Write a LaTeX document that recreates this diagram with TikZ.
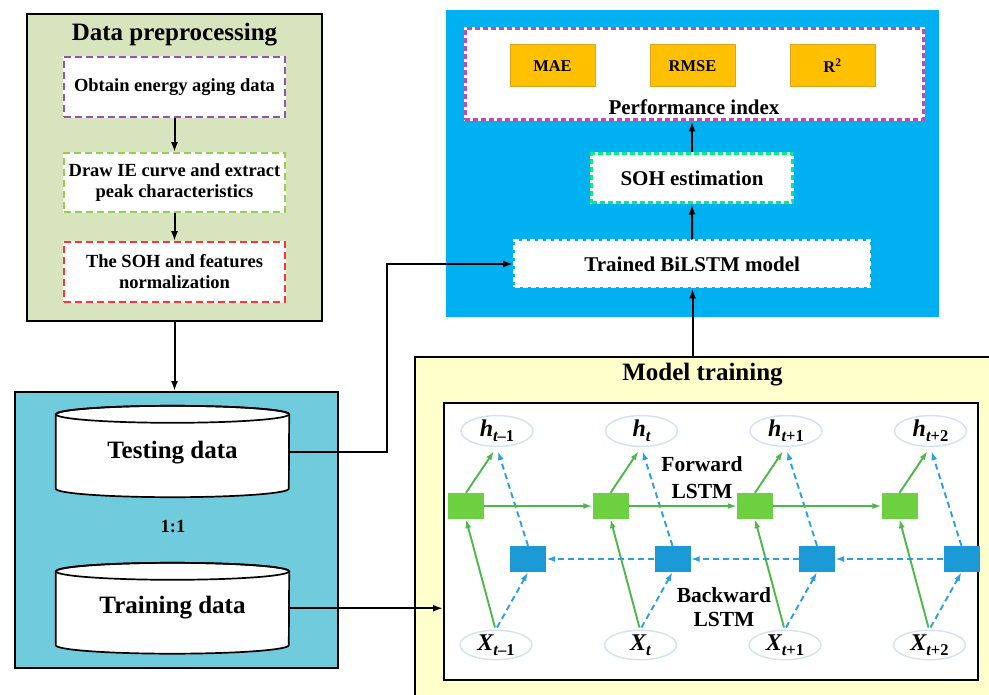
\documentclass[tikz,border=0pt]{standalone}
\usepackage{fontspec}
\setmainfont{Liberation Serif}
\usetikzlibrary{arrows.meta,shapes.geometric}

\definecolor{prepgreen}{HTML}{D7E4BE}
\definecolor{splitteal}{HTML}{70CCDC}
\definecolor{evalblue}{HTML}{00B0F0}
\definecolor{trainyellow}{HTML}{FFFFCC}
\definecolor{metricorange}{HTML}{FFC000}
\definecolor{metricedge}{HTML}{D9A520}
\definecolor{stepviolet}{HTML}{9452B8}
\definecolor{stepgreen}{HTML}{92D050}
\definecolor{stepred}{HTML}{FF3333}
\definecolor{perfmagenta}{HTML}{C24BB3}
\definecolor{sohgreen}{HTML}{00F080}
\definecolor{fwdgreen}{HTML}{6CD040}
\definecolor{bwdblue}{HTML}{1C9AD6}
\definecolor{arrgreen}{HTML}{4CB848}
\definecolor{arrblue}{HTML}{2A9FE0}
\definecolor{ellline}{HTML}{D0E2F4}

\newcommand\fsz[2]{\fontsize{#1}{#2}\selectfont}
% lowered subscript for the sequence labels
\newcommand\seqsub[1]{\raisebox{-5pt}{\fsz{16.5}{16.5}#1}}

\tikzset{
  panel/.style={draw=black, line width=2pt, inner sep=0pt},
  stepbox/.style={fill=white, line width=1.6pt, dash pattern=on 7pt off 4pt,
    preaction={draw=white, solid, line width=1.6pt},
    minimum width=221pt, align=center, inner sep=0pt, font=\bfseries\fsz{18.5}{21}},
  evalbare/.style={fill=white, line width=3pt, dash pattern=on 5pt off 3pt,
    inner sep=0pt, align=center, font=\bfseries\fsz{21}{24}},
  evalbox/.style={evalbare, preaction={draw=white, solid, line width=3pt}},
  flow/.style={-{Latex[length=10pt,width=7pt]}, line width=2pt, draw=black},
  metric/.style={fill=metricorange, draw=metricedge, line width=1pt,
    minimum width=85pt, minimum height=42pt, inner sep=0pt, font=\bfseries\fsz{16.5}{18}},
  cylnode/.style={minimum width=233pt, inner sep=0pt},
  cyltext/.style={font=\bfseries\fsz{25}{28}},
  fwdcell/.style={rectangle, fill=fwdgreen, minimum width=36pt, minimum height=26pt, inner sep=0pt},
  bwdcell/.style={rectangle, fill=bwdblue, minimum width=36pt, minimum height=26pt, inner sep=0pt},
  seqstate/.style={ellipse, fill=white, draw=ellline, line width=1.4pt,
    minimum width=72pt, minimum height=23pt, inner sep=0pt, font=\fsz{24}{24}},
  garrow/.style={-{Latex[length=9pt,width=6pt]}, draw=arrgreen, line width=1.9pt},
  barrow/.style={-{Latex[length=9pt,width=6pt]}, draw=arrblue, line width=1.9pt, dash pattern=on 6pt off 4pt},
}

% database cylinder drawn round a named node
\newcommand\drawcyl[1]{%
  \draw[fill=white, line width=1.7pt] (#1.north west) -- (#1.south west)
    arc[start angle=180, end angle=360, x radius=116.5pt, y radius=8.5pt]
    -- (#1.north east)
    arc[start angle=0, end angle=180, x radius=116.5pt, y radius=8.5pt] -- cycle;
  \draw[line width=1.7pt] (#1.north) ellipse[x radius=116.5pt, y radius=8.5pt];}

\begin{document}
\begin{tikzpicture}[x=1pt, y=-1pt]
\useasboundingbox (0,0) rectangle (989,695);
\fill[white] (0,0) rectangle (989,695);

% ---------------- data preprocessing ----------------
\node[panel, fill=prepgreen, minimum width=295pt, minimum height=307pt] (prep) at (174.5,167.5) {};
\node[font=\bfseries\fsz{25}{28}] (preptitle) at (174.5,35) {Data preprocessing};
\node[stepbox, draw=stepviolet, minimum height=60pt] (s1) at (174.5,87) {Obtain energy aging data};
\node[stepbox, draw=stepgreen, minimum height=59pt] (s2) at (174.5,182.5) {Draw IE curve and extract\\peak characteristics};
\node[stepbox, draw=stepred, minimum height=60pt] (s3) at (174.5,272) {The SOH and features\\normalization};
\draw[flow] (s1) -- (s2);
\draw[flow] (s2) -- (s3);

% ---------------- data split ----------------
\node[panel, fill=splitteal, minimum width=323pt, minimum height=276pt] (split) at (176.5,530) {};
\draw[flow] (prep.south) -- (prep.south |- split.north);

\node[cylnode, minimum height=74pt] (test) at (172.5,451.5) {};
\drawcyl{test}
\node[cyltext] (testlabel) at (172.5,453) {Testing data};
\node[font=\bfseries\fsz{18.5}{20}] (ratio) at (173,527) {1:1};
\node[cylnode, minimum height=73.5pt] (train) at (172.5,608.25) {};
\drawcyl{train}
\node[cyltext] (trainlabel) at (172.5,608) {Training data};

% ---------------- evaluation ----------------
\node[fill=evalblue, minimum width=493pt, minimum height=307pt, inner sep=0pt] (eval) at (692.5,163.5) {};
\node[evalbox, draw=perfmagenta, minimum width=458pt, minimum height=91pt] (perf) at (694,74.5) {};
\node[metric] (mae) at (552.5,66) {MAE};
\node[metric] (rmse) at (692.5,66) {RMSE};
\node[metric] (rsq) at (832.5,66) {R\textsuperscript{2}};
\node[font=\bfseries\fsz{21}{24}] (perflabel) at (694,107) {Performance index};
\node[evalbox, draw=sohgreen, minimum width=201pt, minimum height=49pt] (soh) at (692,178.5) {SOH estimation};
\node[evalbare, draw=white, minimum width=355pt, minimum height=46pt] (trained) at (692.2,264) {Trained BiLSTM model};
\draw[flow] (soh.north) -- (soh.north |- perf.south);
\draw[flow] (trained.north) -- (soh.south);

% ---------------- model training ----------------
\fill[trainyellow] (415,357) rectangle (995,700);
\draw[line width=2pt] (415,700) -- (415,357) -- (995,357);
\coordinate (mtop) at (692.5,357);
\node[font=\bfseries\fsz{25}{28}] (mtitle) at (702.5,375) {Model training};
\draw[flow] (mtop) -- (mtop |- trained.south);

\node[panel, fill=white, minimum width=534pt, minimum height=277pt] (net) at (711,541.5) {};

\draw[flow] (test.east) -- (386.7,451.5) |- (trained.west);
\draw[flow] (train.east) -- (train.east -| net.west);

% states, inputs and LSTM cells
\foreach \k/\sub in {0/{\itshape t\upshape –1}, 1/{\itshape t}, 2/{\itshape t\upshape +1}, 3/{\itshape t\upshape +2}} {
  \node[seqstate] (h\k) at ({497+144.5*\k},431) {\bfseries\itshape h\seqsub{\bfseries\sub}};
  \node[seqstate] (x\k) at ({496+144.5*\k},645) {\bfseries\itshape X\seqsub{\sub}};
  \node[fwdcell] (f\k) at ({466+144.5*\k},506) {};
  \node[bwdcell] (b\k) at ({528+144.5*\k},559) {};
}

\foreach \k in {0,...,3} {
  \draw[garrow] (f\k.north) -- ([xshift=-3pt,yshift=-4pt]h\k.south);
  \draw[barrow] (b\k.north) -- ([xshift=1pt,yshift=-4pt]h\k.south);
  \draw[garrow] ([xshift=-1pt,yshift=2pt]x\k.north) -- (f\k.south);
  \draw[barrow] ([xshift=1pt,yshift=2pt]x\k.north) -- (b\k.south);
}
\foreach \k/\n in {0/1, 1/2, 2/3} {
  \draw[garrow, line width=1.6pt] (f\k.east) -- (f\n.west);
  \draw[barrow] (b\n.west) -- (b\k.east);
}

\node[font=\bfseries\fsz{21.5}{27}, align=center] (fwdlabel) at (702,478) {Forward\\LSTM};
\node[font=\bfseries\fsz{21.5}{24}, align=center] (bwdlabel) at (724,607) {Backward\\LSTM};
\end{tikzpicture}
\end{document}
